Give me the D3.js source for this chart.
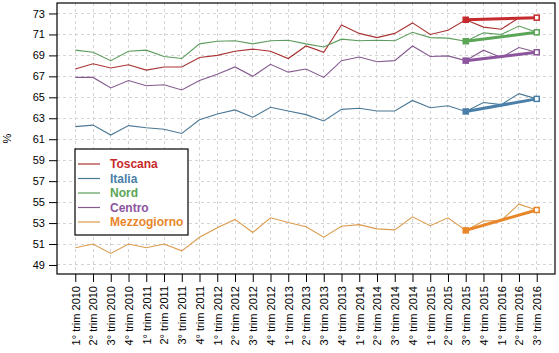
<!DOCTYPE html>
<html>
<head>
<meta charset="utf-8">
<script src="https://cdn.jsdelivr.net/npm/d3@7"></script>
<style>
    body { margin: 0; background: #fff; }
    #chart { width: 559px; height: 353px; }
    text { font-family: Arial, "Liberation Sans", sans-serif; }
</style>
</head>
<body>
<div id="chart"></div>
<script>

// quarters on the x axis
const quarters = [
    "1° trim 2010", "2° trim 2010", "3° trim 2010", "4° trim 2010",
    "1° trim 2011", "2° trim 2011", "3° trim 2011", "4° trim 2011",
    "1° trim 2012", "2° trim 2012", "3° trim 2012", "4° trim 2012",
    "1° trim 2013", "2° trim 2013", "3° trim 2013", "4° trim 2013",
    "1° trim 2014", "2° trim 2014", "3° trim 2014", "4° trim 2014",
    "1° trim 2015", "2° trim 2015", "3° trim 2015", "4° trim 2015",
    "1° trim 2016", "2° trim 2016", "3° trim 2016"
];

// employment rate, %
const toscana = [67.7, 68.2, 67.8, 68.1, 67.6, 67.9, 67.9, 68.8, 69.0, 69.4, 69.6, 69.4, 68.7, 69.9, 69.3, 71.9, 71.1, 70.7, 71.1, 72.1, 71.0, 71.4, 72.4, 71.7, 71.5, 72.6, 72.6];
const italia = [62.2, 62.35, 61.4, 62.3, 62.1, 61.95, 61.55, 62.85, 63.4, 63.8, 63.1, 64.05, 63.7, 63.35, 62.75, 63.85, 63.95, 63.7, 63.7, 64.7, 64.0, 64.2, 63.65, 64.5, 64.3, 65.35, 64.85];
const nord = [69.5, 69.3, 68.5, 69.4, 69.5, 68.9, 68.7, 70.1, 70.35, 70.4, 70.1, 70.4, 70.45, 70.1, 69.8, 70.55, 70.4, 70.45, 70.4, 71.2, 70.7, 70.65, 70.35, 71.15, 71.0, 71.8, 71.2];
const centro = [66.9, 66.9, 65.9, 66.6, 66.1, 66.2, 65.7, 66.6, 67.2, 67.9, 67.0, 68.15, 67.4, 67.7, 66.9, 68.5, 68.85, 68.4, 68.5, 69.9, 68.9, 68.95, 68.5, 69.5, 68.8, 69.75, 69.3];
const mezzogiorno = [50.65, 51.0, 50.1, 51.0, 50.65, 51.0, 50.35, 51.65, 52.55, 53.35, 52.1, 53.5, 53.05, 52.65, 51.65, 52.7, 52.85, 52.45, 52.35, 53.6, 52.75, 53.5, 52.3, 53.2, 53.25, 54.8, 54.25];

const seriesNames = ["Toscana", "Italia", "Nord", "Centro", "Mezzogiorno"];
const seriesValues = [toscana, italia, nord, centro, mezzogiorno];
const seriesColors = ["#c62a2c", "#4a7fa9", "#5aa556", "#8c559e", "#e8862a"];
const thinColors = ["#a93232", "#4a7794", "#5c9c5c", "#84598f", "#dc9a4c"];

// y ticks
const yTicks = [49, 51, 53, 55, 57, 59, 61, 63, 65, 67, 69, 71, 73];

// trend segment: 3° trim 2015 -> 3° trim 2016
const trendFrom = "3° trim 2015";
const trendTo = "3° trim 2016";


class LineChart {

    constructor(_parentElement, _data) {
        this.parentElement = _parentElement;
        this.data = _data;
        this.initVis();
    }

    initVis() {
        let vis = this;

        vis.margin = {top: 3, right: 4, bottom: 79, left: 57};
        vis.width = 559 - vis.margin.left - vis.margin.right;
        vis.height = 353 - vis.margin.top - vis.margin.bottom;

        vis.svg = d3.select("#" + vis.parentElement).append("svg")
            .attr("width", 559)
            .attr("height", 353)
            .append("g")
            .attr("transform", "translate(" + vis.margin.left + "," + vis.margin.top + ")");

        // scales
        vis.x = d3.scalePoint()
            .domain(quarters)
            .range([0, vis.width])
            .padding(1.03);

        vis.y = d3.scaleLinear()
            .domain([48.14, 74.0])
            .range([vis.height, 0]);

        // dashed grid
        vis.svg.append("g")
            .attr("class", "grid")
            .selectAll("line.gx")
            .data(quarters)
            .enter().append("line")
            .attr("x1", d => vis.x(d)).attr("x2", d => vis.x(d))
            .attr("y1", 0).attr("y2", vis.height);

        vis.svg.select(".grid")
            .selectAll("line.gy")
            .data(yTicks)
            .enter().append("line")
            .attr("class", "gy")
            .attr("x1", 0).attr("x2", vis.width)
            .attr("y1", d => vis.y(d)).attr("y2", d => vis.y(d));

        vis.svg.selectAll(".grid line")
            .attr("stroke", "#d4d4d4")
            .attr("stroke-dasharray", "3,3")
            .attr("shape-rendering", "crispEdges");

        // axes
        let yAxis = d3.axisLeft(vis.y).tickValues(yTicks).tickSize(8).tickPadding(4);
        vis.svg.append("g")
            .attr("class", "y-axis")
            .call(yAxis)
            .call(g => g.select(".domain").remove())
            .call(g => g.selectAll("text").attr("font-size", 11).attr("fill", "#000"));

        let xAxis = d3.axisBottom(vis.x).tickSize(8);
        vis.svg.append("g")
            .attr("class", "x-axis")
            .attr("transform", "translate(0," + vis.height + ")")
            .call(xAxis)
            .call(g => g.select(".domain").remove())
            .call(g => g.selectAll("text")
                .attr("font-size", 11)
                .attr("fill", "#000")
                .attr("text-anchor", "end")
                .attr("transform", "translate(0,12) rotate(-90)")
                .attr("x", 0)
                .attr("y", 0)
                .attr("dy", "0.35em"));

        vis.svg.selectAll(".tick line").attr("stroke", "#000");

        // y label
        vis.svg.append("text")
            .attr("transform", "translate(" + (-46) + "," + (vis.height / 2) + ") rotate(-90)")
            .attr("text-anchor", "middle")
            .attr("font-size", 11)
            .text("%");

        vis.lineGroup = vis.svg.append("g").attr("class", "lines");

        vis.line = d3.line()
            .x(d => vis.x(d.quarter))
            .y(d => vis.y(d.value));

        this.wrangleData();
    }

    wrangleData() {
        let vis = this;

        vis.displayData = vis.data.names.map((name, i) => ({
            name: name,
            color: vis.data.colors[i],
            thin: vis.data.thin[i],
            values: vis.data.values[i].map((v, j) => ({quarter: quarters[j], value: v}))
        }));

        // endpoints for the thick segment
        vis.displayData.forEach(s => {
            s.trend = s.values.filter(d => d.quarter === trendFrom || d.quarter === trendTo);
        });

        vis.updateVis();
    }

    updateVis() {
        let vis = this;

        // thin lines
        vis.lineGroup.selectAll(".thin")
            .data(vis.displayData)
            .enter().append("path")
            .attr("class", "thin")
            .attr("fill", "none")
            .attr("stroke", d => d.thin)
            .attr("stroke-width", 1.1)
            .attr("d", d => vis.line(d.values));

        // thick trend segments
        vis.lineGroup.selectAll(".trend")
            .data(vis.displayData)
            .enter().append("path")
            .attr("class", "trend")
            .attr("fill", "none")
            .attr("stroke", d => d.color)
            .attr("stroke-width", 3)
            .attr("d", d => vis.line(d.trend));

        // square markers at both ends
        vis.displayData.forEach(s => {
            vis.lineGroup.selectAll(null)
                .data(s.trend)
                .enter().append("rect")
                .attr("x", d => vis.x(d.quarter) - 2.5)
                .attr("y", d => vis.y(d.value) - 2.5)
                .attr("width", 5)
                .attr("height", 5)
                .attr("fill", (d, i) => i === 0 ? s.color : "#fff")
                .attr("stroke", s.color)
                .attr("stroke-width", 1.5);
        });

        // frame
        vis.svg.append("rect")
            .attr("x", 0).attr("y", 0)
            .attr("width", vis.width).attr("height", vis.height)
            .attr("fill", "none")
            .attr("stroke", "#000")
            .attr("stroke-width", 1.2);

        // legend
        let legend = vis.svg.append("g")
            .attr("class", "legend")
            .attr("transform", "translate(18,146)");

        legend.append("rect")
            .attr("width", 113)
            .attr("height", 86)
            .attr("fill", "#fff")
            .attr("stroke", "#000")
            .attr("stroke-width", 1.2);

        let items = legend.selectAll(".item")
            .data(vis.displayData)
            .enter().append("g")
            .attr("class", "item")
            .attr("transform", (d, i) => "translate(0," + (15 + i * 14.5) + ")");

        items.append("line")
            .attr("x1", 3).attr("x2", 25)
            .attr("stroke", d => d.thin)
            .attr("stroke-width", 1.2);

        items.append("text")
            .attr("x", 35)
            .attr("dy", "0.35em")
            .attr("font-size", 12)
            .attr("font-weight", "bold")
            .attr("fill", d => d.color)
            .text(d => d.name);
    }
}

new LineChart("chart", {names: seriesNames, values: seriesValues, colors: seriesColors, thin: thinColors});

</script>
</body>
</html>
